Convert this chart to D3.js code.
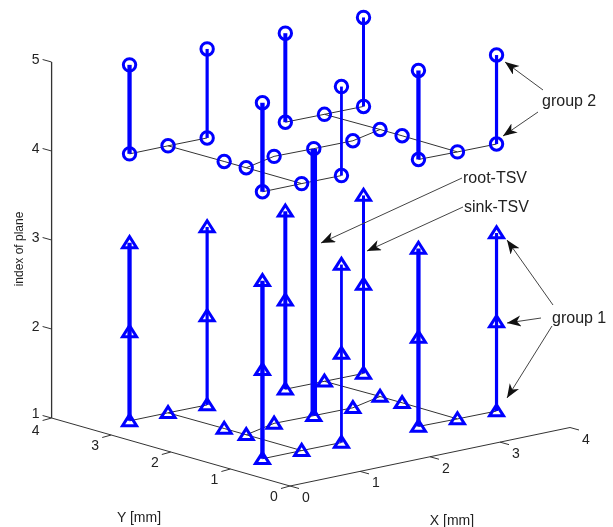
<!DOCTYPE html>
<html>
<head>
<meta charset="utf-8">
<title>TSV groups</title>
<script src="https://d3js.org/d3.v7.min.js"></script>
<style>
  html, body { margin: 0; padding: 0; background: #fff; }
  svg { display: block; filter: blur(0.3px); }
  text { font-family: "Liberation Sans", Arial, sans-serif; fill: #222; }
</style>
</head>
<body>
<div id="chart"></div>
<script>
// TSV locations in mm
const tsvNames = ["A", "B", "C", "D", "E", "F", "G", "H", "root"];
const tsvX = [0.56, 1.66, 0.56, 2.76, 1.68, 3.86, 2.78, 3.87, 2.23];
const tsvY = [3.35, 3.34, 1.12, 3.32, 1.11, 3.30, 1.11, 1.08, 2.22];

// wiring points that carry a marker but no stem
const nodeNames = ["s1", "s2", "s3", "s4", "p1", "p2", "p3", "p4", "p5", "p6"];
const nodeX = [1.11, 3.31, 1.12, 3.32, 1.12, 1.12, 1.68, 2.78, 3.33, 3.33];
const nodeY = [3.35, 3.31, 1.12, 1.09, 2.42, 2.05, 2.24, 2.21, 2.40, 2.03];

// which points each wire runs through
const wires = [
  ["A", "s1", "B"],
  ["D", "s2", "F"],
  ["C", "s3", "E"],
  ["G", "s4", "H"],
  ["s1", "p1", "p2", "s3"],
  ["s2", "p5", "p6", "s4"],
  ["p2", "p3", "root", "p4", "p5"]
];

const xTicks = [0, 1, 2, 3, 4];
const yTicks = [0, 1, 2, 3, 4];
const zTicks = [1, 2, 3, 4, 5];
const group1Planes = [1, 2, 3];
const group2Planes = [4, 5];

const width = 613, height = 527;
const origin = [290, 486];

// each data axis has its own screen direction
const xH = d3.scaleLinear().domain([0, 4]).range([0, 280]);
const xV = d3.scaleLinear().domain([0, 4]).range([0, -58.5]);
const yH = d3.scaleLinear().domain([0, 4]).range([0, -238.4]);
const yV = d3.scaleLinear().domain([0, 4]).range([0, -68]);
const zV = d3.scaleLinear().domain([1, 5]).range([0, -356]);

function project(x, y, z) {
  return [origin[0] + xH(x) + yH(y), origin[1] + xV(x) + yV(y) + zV(z)];
}

const points = {};
tsvNames.forEach((n, i) => points[n] = {x: tsvX[i], y: tsvY[i]});
nodeNames.forEach((n, i) => points[n] = {x: nodeX[i], y: nodeY[i]});

const stemWidth = {A: 4.3, B: 3.2, C: 4.4, D: 4, E: 2.8, F: 3, G: 4.3, H: 3.2, root: 6.5};
const blue = "#0000ff";

const svg = d3.select("#chart").append("svg")
  .attr("width", width)
  .attr("height", height)
  .attr("viewBox", [0, 0, width, height]);

const defs = svg.append("defs");
defs.append("marker")
  .attr("id", "head")
  .attr("markerUnits", "userSpaceOnUse")
  .attr("markerWidth", 15)
  .attr("markerHeight", 12)
  .attr("refX", 14)
  .attr("refY", 5.5)
  .attr("orient", "auto")
  .append("path")
  .attr("d", "M0,0 L14,5.5 L0,11 L4,5.5 Z")
  .attr("fill", "#111");

// axes
const axisG = svg.append("g").attr("stroke", "#333").attr("fill", "none");
const line = d3.line();
axisG.append("path").attr("d", line([project(0, 0, 1), project(4, 0, 1)]));
axisG.append("path").attr("d", line([project(0, 0, 1), project(0, 4, 1)]));
axisG.append("path").attr("d", line([project(0, 4, 1), project(0, 4, 5)])).attr("stroke-width", 1.3);

function label(p, t) {
  svg.append("text")
    .attr("x", p[0])
    .attr("y", p[1])
    .attr("text-anchor", "middle")
    .attr("dominant-baseline", "central")
    .attr("font-size", 14)
    .text(t);
}

xTicks.forEach(t => {
  const p = project(t, 0, 1);
  axisG.append("path").attr("d", line([p, [p[0] + 9, p[1] + 2.5]]));
  label([p[0] + 16, p[1] + 11], t);
});
yTicks.forEach(t => {
  const p = project(0, t, 1);
  axisG.append("path").attr("d", line([p, [p[0] - 9, p[1] + 2.5]]));
  // the far Y label sits right under the lowest plane label
  label([p[0] - 16, p[1] + (t === 4 ? 12 : 10)], t);
});
zTicks.forEach(t => {
  const p = project(0, 4, t);
  axisG.append("path").attr("d", line([p, [p[0] - 9, p[1] - 2.5]]));
  label([p[0] - 16, p[1] - (t === 1 ? 5 : 3)], t);
});

svg.append("text").attr("x", 139).attr("y", 517).attr("text-anchor", "middle")
  .attr("dominant-baseline", "central").attr("font-size", 14).text("Y [mm]");
svg.append("text").attr("x", 452).attr("y", 520).attr("text-anchor", "middle")
  .attr("dominant-baseline", "central").attr("font-size", 14).text("X [mm]");
svg.append("text").attr("transform", "translate(19,249) rotate(-90)")
  .attr("text-anchor", "middle").attr("dominant-baseline", "central")
  .attr("font-size", 12).text("index of plane");

// wires on plane 1 and plane 4
const wireG = svg.append("g").attr("fill", "none").attr("stroke", "#333").attr("stroke-width", 1);
[1, 4].forEach(z => {
  wireG.selectAll(null)
    .data(wires)
    .enter()
    .append("path")
    .attr("d", w => line(w.map(n => project(points[n].x, points[n].y, z))));
});

// stems
const stems = svg.append("g").attr("stroke", blue).attr("fill", "none");
tsvNames.forEach(n => {
  const p = points[n];
  if (n === "root") {
    stems.append("path").attr("d", line([project(p.x, p.y, 1), project(p.x, p.y, 4)]))
      .attr("stroke-width", stemWidth[n]);
  } else {
    stems.append("path").attr("d", line([project(p.x, p.y, 1), project(p.x, p.y, 3)]))
      .attr("stroke-width", stemWidth[n]);
    stems.append("path").attr("d", line([project(p.x, p.y, 4), project(p.x, p.y, 5)]))
      .attr("stroke-width", stemWidth[n]);
  }
});

// markers
const triangle = {
  draw(ctx) {
    ctx.moveTo(0, -6.2);
    ctx.lineTo(7, 4.8);
    ctx.lineTo(-7, 4.8);
    ctx.closePath();
  }
};
const triPath = d3.symbol(triangle)();
const markers = svg.append("g").attr("fill", "none").attr("stroke", blue).attr("stroke-width", 3);

function tri(x, y, z) {
  const p = project(x, y, z);
  markers.append("path").attr("d", triPath).attr("transform", `translate(${p[0]},${p[1]})`);
}
function circ(x, y, z) {
  const p = project(x, y, z);
  markers.append("circle").attr("cx", p[0]).attr("cy", p[1]).attr("r", 6.2);
}

tsvNames.forEach(n => {
  const p = points[n];
  if (n === "root") {
    tri(p.x, p.y, 1);
    circ(p.x, p.y, 4);
    return;
  }
  group1Planes.forEach(z => tri(p.x, p.y, z));
  group2Planes.forEach(z => circ(p.x, p.y, z));
});
nodeNames.forEach(n => {
  tri(points[n].x, points[n].y, 1);
  circ(points[n].x, points[n].y, 4);
});

// callouts, in page pixels
const callouts = [
  {text: "root-TSV", x: 463, y: 183, arrows: [[[462, 178], [321, 243]]]},
  {text: "sink-TSV", x: 464, y: 212, arrows: [[[463, 207], [367, 251]]]},
  {text: "group 2", x: 542, y: 106, arrows: [[[543, 90], [505, 62]], [[538, 112], [503, 136]]]},
  {text: "group 1", x: 552, y: 323, arrows: [[[553, 305], [507, 240]], [[541, 318], [507, 323]], [[552, 326], [507, 398]]]}
];

callouts.forEach(c => {
  c.arrows.forEach(a => {
    svg.append("path")
      .attr("d", line(a))
      .attr("fill", "none")
      .attr("stroke", "#444")
      .attr("stroke-width", 1)
      .attr("marker-end", "url(#head)");
  });
  svg.append("text").attr("x", c.x).attr("y", c.y).attr("font-size", 16).text(c.text);
});
</script>
</body>
</html>
